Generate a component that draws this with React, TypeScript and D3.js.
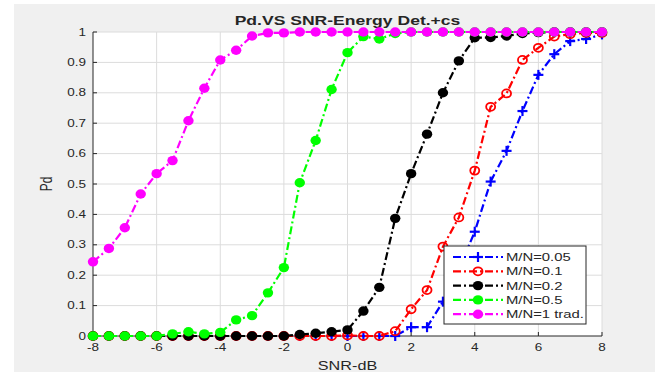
import * as d3 from "d3";

// SNR axis values (dB)
const snr = d3.range(-8, 8.01, 0.5);

// Pd curves
const pd005 = [0, 0, 0, 0, 0, 0, 0, 0, 0, 0, 0, 0, 0, 0, 0, 0, 0, 0, 0, 0, 0.029, 0.029, 0.113, 0.22, 0.343, 0.508, 0.609, 0.74, 0.859, 0.927, 0.97, 0.977, 0.992];
const pd01 = [0, 0, 0, 0, 0, 0, 0, 0, 0, 0, 0, 0, 0, 0, 0, 0, 0.002, 0, 0, 0.016, 0.088, 0.151, 0.294, 0.39, 0.544, 0.754, 0.798, 0.908, 0.948, 0.985, 0.993, 0.997, 0.997];
const pd02 = [0, 0, 0, 0, 0, 0, 0, 0, 0, 0, 0, 0, 0, 0.005, 0.009, 0.014, 0.02, 0.082, 0.16, 0.387, 0.534, 0.664, 0.8, 0.905, 0.981, 0.982, 0.987, 0.995, 0.998, 1, 1, 1, 1];
const pd05 = [0, 0, 0, 0, 0, 0.007, 0.014, 0.007, 0.012, 0.053, 0.067, 0.142, 0.225, 0.504, 0.643, 0.811, 0.932, 0.985, 0.977, 0.995, 1, 1, 1, 1, 1, 1, 1, 1, 1, 1, 1, 1, 1];
const pd1 = [0.244, 0.288, 0.356, 0.467, 0.534, 0.577, 0.708, 0.815, 0.908, 0.94, 0.987, 0.997, 0.997, 1, 1, 1, 1, 1, 1, 1, 1, 1, 1, 1, 1, 1, 1, 1, 1, 1, 1, 1, 1];

const labels = ["M/N=0.05", "M/N=0.1", "M/N=0.2", "M/N=0.5", "M/N=1 trad."];
const colors = ["#0000ff", "#ff0000", "#000000", "#00ff00", "#ff00ff"];
const markers = ["plus", "open", "dot", "dot", "dot"];
const seriesData = [pd005, pd01, pd02, pd05, pd1];

const xTicks = [-8, -6, -4, -2, 0, 2, 4, 6, 8];
const yTicks = d3.range(0, 1.01, 0.1);

const W = 659;
const H = 372;
const SX = 1.35; // the reference is stretched sideways
const font = "'Liberation Sans', Arial, sans-serif";
const axisColor = "#262626";

function Txt({ x, y, anchor = "start", size = 10, bold = false, children, rotate = 0 }: any) {
  return (
    <text
      transform={`translate(${x},${y}) rotate(${rotate}) scale(${rotate ? 1 : SX},${rotate ? SX : 1})`}
      textAnchor={anchor}
      fontSize={size}
      fontWeight={bold ? "bold" : "normal"}
      fontFamily={font}
      fill={axisColor}
    >
      {children}
    </text>
  );
}

function Marker({ type, color, cx, cy }: any) {
  if (type === "plus")
    return (
      <g stroke={color} strokeWidth={2.2}>
        <line x1={cx - 5} x2={cx + 5} y1={cy} y2={cy} />
        <line x1={cx} x2={cx} y1={cy - 5} y2={cy + 5} />
      </g>
    );
  if (type === "open")
    return <ellipse cx={cx} cy={cy} rx={4.5} ry={4} fill="none" stroke={color} strokeWidth={1.8} />;
  return <ellipse cx={cx} cy={cy} rx={5.2} ry={4.7} fill={color} />;
}

export default function App() {
  const margin = { left: 93, right: 57, top: 32, bottom: 36 };
  const x = d3.scaleLinear().domain([-8, 8]).range([margin.left, W - margin.right]);
  const y = d3.scaleLinear().domain([0, 1]).range([H - margin.bottom, margin.top]);
  const line = d3
    .line<number>()
    .x((_, i) => x(snr[i]))
    .y((d) => y(d));

  const lg = { x: 444, y: 246, w: 142, h: 78 };

  return (
    <svg width={W} height={H} style={{ position: "absolute", left: 0, top: 0 }}>
      <rect x={14} y={4} width={641} height={H - 4} fill="#f0f0f0" />
      <rect x={x(-8)} y={y(1)} width={x(8) - x(-8)} height={y(0) - y(1)} fill="#ffffff" />

      {/* grid */}
      <g stroke="#dcdcdc" strokeWidth={1}>
        {xTicks.slice(1).map((t) => (
          <line key={"gx" + t} x1={x(t)} x2={x(t)} y1={y(0)} y2={y(1)} />
        ))}
        {yTicks.slice(1).map((t) => (
          <line key={"gy" + t} x1={x(-8)} x2={x(8)} y1={y(t)} y2={y(t)} />
        ))}
      </g>

      {/* axes */}
      <g stroke={axisColor} strokeWidth={1}>
        <line x1={x(-8)} x2={x(-8)} y1={y(0)} y2={y(1)} />
        <line x1={x(-8)} x2={x(8)} y1={y(0)} y2={y(0)} />
        {yTicks.map((t) => (
          <line key={"ty" + t} x1={x(-8)} x2={x(-8) + 4} y1={y(t)} y2={y(t)} />
        ))}
        {xTicks.map((t) => (
          <line key={"tx" + t} x1={x(t)} x2={x(t)} y1={y(0)} y2={y(0) - 4} />
        ))}
      </g>
      {yTicks.map((t) => (
        <Txt key={"ly" + t} x={x(-8) - 7} y={y(t) + 3.5} anchor="end">
          {d3.format("~g")(+t.toFixed(1))}
        </Txt>
      ))}
      {xTicks.map((t) => (
        <Txt key={"lx" + t} x={x(t)} y={y(0) + 15} anchor="middle">
          {t}
        </Txt>
      ))}
      <Txt x={(x(-8) + x(8)) / 2} y={H - 2} anchor="middle" size={12}>
        SNR-dB
      </Txt>
      <Txt x={52} y={(y(0) + y(1)) / 2} anchor="middle" size={12} rotate={-90}>
        Pd
      </Txt>
      <Txt x={(x(-8) + x(8)) / 2} y={25} anchor="middle" size={13} bold>
        Pd.VS SNR-Energy Det.+cs
      </Txt>

      {/* curves */}
      {seriesData.map((s, k) => (
        <g key={"s" + k}>
          <path
            d={line(s) || ""}
            fill="none"
            stroke={colors[k]}
            strokeWidth={2.2}
            strokeDasharray="8,3,2,3"
          />
          {s.map((v, i) => (
            <Marker key={i} type={markers[k]} color={colors[k]} cx={x(snr[i])} cy={y(v)} />
          ))}
        </g>
      ))}

      {/* legend */}
      <rect x={lg.x} y={lg.y} width={lg.w} height={lg.h} fill="#ffffff" stroke={axisColor} strokeWidth={1} />
      {labels.map((l, k) => {
        const ly = lg.y + 11 + k * 14.3;
        return (
          <g key={"lg" + k}>
            <line x1={lg.x + 9} x2={lg.x + 59} y1={ly} y2={ly} stroke={colors[k]} strokeWidth={2.2} strokeDasharray="8,3,2,3" />
            <Marker type={markers[k]} color={colors[k]} cx={lg.x + 34} cy={ly} />
            <Txt x={lg.x + 62} y={ly + 4} size={11}>
              {l}
            </Txt>
          </g>
        );
      })}
    </svg>
  );
}
